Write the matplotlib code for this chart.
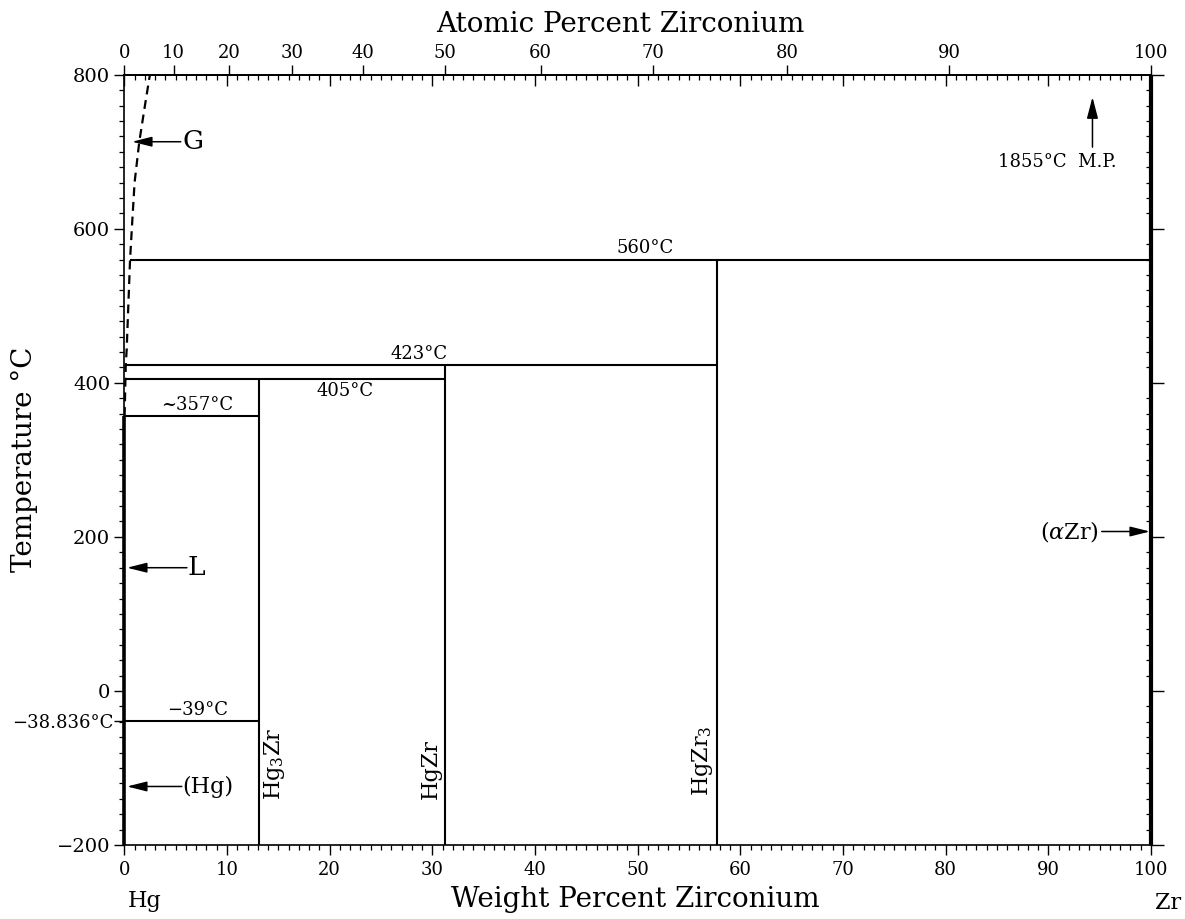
import numpy as np
import matplotlib
matplotlib.use('Agg')
import matplotlib.pyplot as plt
from matplotlib.ticker import MultipleLocator, NullLocator, FixedLocator

plt.rcParams['mathtext.fontset'] = 'dejavuserif'

M_HG = 200.59
M_ZR = 91.224

# invariant (horizontal) lines
inv_T = [560, 423, 405, 357, -39]
inv_x0 = [0.56, 0.14, 0.05, 0.0, 0.0]
inv_x1 = [100.0, 57.7, 31.26, 13.16, 13.16]
inv_labels = ['560°C', '423°C', '405°C', '~357°C', '−39°C']
inv_label_x = [50.7, 28.7, 21.5, 7.1, 7.1]
inv_label_T = [563, 426, 401, 360, -36]
inv_label_va = ['bottom', 'bottom', 'top', 'bottom', 'bottom']

# compounds (vertical lines)
compound_names = [r'Hg$_\mathrm{3}$Zr', 'HgZr', r'HgZr$_\mathrm{3}$']
compound_wt = [13.16, 31.26, 57.70]
compound_top = [405, 423, 560]
compound_label_x = [14.6, 29.8, 56.3]
compound_label_T = [-141, -140, -137]

# gas boundary (dashed)
gas_wt = [0.03, 0.14, 0.23, 0.56, 0.75, 1.0, 1.46, 1.95, 2.43, 2.5]
gas_T = [357, 423, 443, 560, 604, 660, 713, 755, 795, 800]

# pure elements
hg_top = 357
zr_top = 800

# arrow labels
arrow_text = ['G', 'L', '(Hg)', r'($\alpha$Zr)']
arrow_tip_x = [0.75, 0.26, 0.26, 99.9]
arrow_tail_x = [5.5, 6.1, 5.6, 95.2]
arrow_T = [713, 160, -124, 207]
arrow_text_x = [5.7, 6.2, 5.6, 94.9]
arrow_text_ha = ['left', 'left', 'left', 'right']
arrow_text_size = [19, 19, 16, 16]

# melting point arrow
mp_x = 94.3
mp_T0, mp_T1 = 706, 771
mp_text = '1855°C  M.P.'
mp_text_x, mp_text_T = 90.9, 687

at_ticks = [0, 10, 20, 30, 40, 50, 60, 70, 80, 90, 100]
y_ticks = [-200, -38.836, 0, 200, 400, 600, 800]
y_ticklabels = ['−200', '−38.836°C', '0', '200', '400', '600', '800']

fig = plt.figure(figsize=(11.85, 9.19), dpi=100)
ax = fig.add_axes([0.1049, 0.0805, 0.9713 - 0.1049, 0.9187 - 0.0805])
ax.set_xlim(0, 100)
ax.set_ylim(-200, 800)
for s in ax.spines.values():
    s.set_linewidth(1.2)

LW = 1.5
ax.hlines(inv_T, inv_x0, inv_x1, colors='black', lw=LW)
ax.vlines(compound_wt, -200, compound_top, colors='black', lw=LW)
ax.vlines([0], -200, hg_top, colors='black', lw=2.6, clip_on=False)
ax.vlines([100], -200, zr_top, colors='black', lw=3.0, clip_on=False)
ax.plot(gas_wt, gas_T, color='black', lw=1.6, linestyle=(0, (4, 2.6)))

tf = 'DejaVu Serif'
for lab, x, T, va in zip(inv_labels, inv_label_x, inv_label_T, inv_label_va):
    ax.text(x, T, lab, ha='center', va=va, fontsize=13, family=tf)

for name, x, T in zip(compound_names, compound_label_x, compound_label_T):
    ax.text(x, T, name, rotation=90, ha='center', va='bottom', fontsize=16,
            family=tf)

for t, tip, tail, T, tx, ha, fs in zip(arrow_text, arrow_tip_x, arrow_tail_x, arrow_T,
                                        arrow_text_x, arrow_text_ha, arrow_text_size):
    ax.annotate('', xy=(tip, T), xytext=(tail, T),
                arrowprops=dict(arrowstyle='-|>,head_length=0.6,head_width=0.15',
                                mutation_scale=20, lw=1.1, color='black',
                                shrinkA=0, shrinkB=0))
    ax.text(tx, T, t, ha=ha, va='center', fontsize=fs, family=tf)

ax.annotate('', xy=(mp_x, mp_T1), xytext=(mp_x, mp_T0),
            arrowprops=dict(arrowstyle='-|>,head_length=0.65,head_width=0.17',
                            mutation_scale=20, lw=1.1, color='black',
                            shrinkA=0, shrinkB=0))
ax.text(mp_text_x, mp_text_T, mp_text, ha='center', va='center', fontsize=13, family=tf)

# bottom / left ticks
ax.xaxis.set_major_locator(MultipleLocator(10))
ax.xaxis.set_minor_locator(MultipleLocator(1))
ax.yaxis.set_major_locator(FixedLocator(y_ticks))
ax.yaxis.set_minor_locator(MultipleLocator(20))
ax.set_yticklabels(y_ticklabels)
ax.tick_params(top=False, right=False, which='both', direction='out')
ax.tick_params(axis='both', which='major', length=7.2, width=1.0)
ax.tick_params(axis='both', which='minor', length=3.6, width=0.9)
ax.tick_params(axis='x', which='major', labelsize=13, pad=4)
ax.tick_params(axis='y', which='major', labelsize=14, pad=3)
for lab in ax.get_xticklabels() + ax.get_yticklabels():
    lab.set_family(tf)
t_special = ax.yaxis.get_major_ticks()[1]
t_special.tick1line.set_markersize(3.6)
t_special.label1.set_fontsize(13)
t_special.set_pad(0.5)

# top weight ticks (inward)
topw = ax.secondary_xaxis('top')
topw.xaxis.set_major_locator(MultipleLocator(10))
topw.xaxis.set_minor_locator(MultipleLocator(1))
topw.tick_params(which='both', direction='in', labeltop=False)
topw.tick_params(which='major', length=7.6, width=1.0)
topw.tick_params(which='minor', length=3.6, width=0.9)
topw.spines['top'].set_linewidth(1.2)


def wt2at(w):
    w = np.asarray(w, dtype=float)
    with np.errstate(divide='ignore', invalid='ignore'):
        return 100.0 * (w / M_ZR) / (w / M_ZR + (100.0 - w) / M_HG)


def at2wt(a):
    a = np.asarray(a, dtype=float)
    with np.errstate(divide='ignore', invalid='ignore'):
        return 100.0 * a * M_ZR / (a * M_ZR + (100.0 - a) * M_HG)


topa = ax.secondary_xaxis('top', functions=(wt2at, at2wt))
topa.set_xticks(at_ticks)
topa.xaxis.set_minor_locator(NullLocator())
topa.tick_params(which='major', direction='out', length=7.2, width=1.0,
                 labelsize=13, pad=2)
for lab in topa.get_xticklabels():
    lab.set_family(tf)
topa.spines['top'].set_linewidth(1.2)

# right ticks
rax = ax.secondary_yaxis('right')
rax.yaxis.set_major_locator(MultipleLocator(200))
rax.yaxis.set_minor_locator(MultipleLocator(20))
rax.tick_params(which='major', direction='out', length=9, width=1.0, labelright=False)
rax.tick_params(which='minor', direction='in', length=3.6, width=0.9)
rax.spines['right'].set_linewidth(1.2)

fig.text(0.5232, 0.9655, 'Atomic Percent Zirconium', ha='center', va='baseline',
         fontsize=20, family=tf)
fig.text(0.536, 0.0134, 'Weight Percent Zirconium', ha='center', va='baseline',
         fontsize=20, family=tf)
fig.text(0.021, 0.5005, 'Temperature °C', ha='center', va='center', rotation=90,
         fontsize=20, family=tf)
fig.text(0.122, 0.0131, 'Hg', ha='center', va='baseline', fontsize=16, family=tf)
fig.text(0.9857, 0.011, 'Zr', ha='center', va='baseline', fontsize=16, family=tf)

fig.savefig('out.png', dpi=100)
